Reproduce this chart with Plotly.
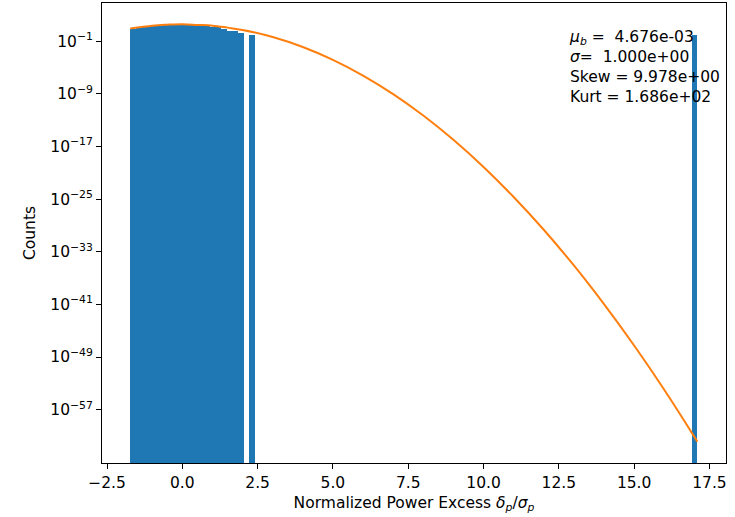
"""Histogram of normalized power excess with Gaussian model, log counts."""
import numpy as np
import plotly.graph_objects as go

COLORS = {
    "bar": "#1f77b4",
    "fit": "#ff7f0e",
    "axis": "#000000",
}
FONT = "DejaVu Sans, sans-serif"
FS = 15.5

# histogram: 100 equal bins between these edges
BIN_LO = -1.727
BIN_HI = 17.10
BULK_COUNTS = [8, 10, 14, 20, 26, 30, 33, 35, 36, 36,
               35, 34, 32, 30, 16, 12, 6, 3, 3, 2]
COUNTS = BULK_COUNTS + [0, 1] + [0] * 77 + [1]

# model curve
CURVE_X = [-1.727, -1.0, -0.5, 0.0, 0.5, 1.0, 1.5, 2.0, 3.0, 4.0, 5.0, 6.0,
           7.0, 8.0, 9.0, 10.0, 11.0, 12.0, 13.0, 14.0, 15.0, 16.0, 17.0, 17.10]
CURVE_Y = [8.3, 22.7, 31.5, 37.6, 29.5, 22.9, 11.4, 5.14, 4.24e-1, 1.29e-2,
           1.44e-4, 5.9e-7, 8.95e-10, 4.99e-13, 1.02e-16, 7.7e-21, 2.1e-25,
           2.2e-30, 8.2e-36, 1.1e-41, 5.7e-48, 1.1e-54, 7.4e-62, 1.3e-62]

X_TICKS = [-2.5, 0.0, 2.5, 5.0, 7.5, 10.0, 12.5, 15.0, 17.5]
Y_TICK_EXP = [-1, -9, -17, -25, -33, -41, -49, -57]

STATS = {"mu": "4.676e-03", "sigma": "1.000e+00",
         "skew": "9.978e+00", "kurt": "1.686e+02"}

edges = np.linspace(BIN_LO, BIN_HI, len(COUNTS) + 1)
centers = 0.5 * (edges[:-1] + edges[1:])
width = edges[1] - edges[0]
counts = [c if c > 0 else None for c in COUNTS]

fig = go.Figure()
fig.add_trace(go.Bar(
    x=centers, y=counts, width=width,
    marker=dict(color=COLORS["bar"], line=dict(width=0)),
    showlegend=False,
))
fig.add_trace(go.Scatter(
    x=CURVE_X, y=CURVE_Y, mode="lines", line_shape="spline",
    line=dict(color=COLORS["fit"], width=2),
    showlegend=False,
))

stats_text = (
    f"<i>μ</i><sub><i>b</i></sub> =  {STATS['mu']}<br>"
    f"<i>σ</i>=  {STATS['sigma']}<br>"
    f"Skew = {STATS['skew']}<br>"
    f"Kurt = {STATS['kurt']}"
)
fig.add_annotation(
    text=stats_text, xref="paper", yref="paper", x=0.745, y=0.95,
    xanchor="left", yanchor="top", align="left", showarrow=False,
    font=dict(family=FONT, size=FS, color="#000"),
)

axis_common = dict(
    showline=True, linecolor=COLORS["axis"], linewidth=1, mirror=True,
    ticks="outside", ticklen=5, tickcolor=COLORS["axis"], showgrid=False,
    zeroline=False, automargin=False,
    tickfont=dict(family=FONT, size=FS, color="#000"),
)
fig.update_layout(
    width=735, height=517,
    margin=dict(l=102, r=9, t=3, b=54),
    plot_bgcolor="white", paper_bgcolor="white",
    bargap=0,
    font=dict(family=FONT, size=FS, color="#000"),
    xaxis=dict(
        range=[-2.666, 18.05],
        tickvals=X_TICKS,
        ticktext=[f"{v:.1f}".replace("-", "−") for v in X_TICKS],
        title=dict(text="Normalized Power Excess <i>δ</i><sub><i>p</i></sub>/<i>σ</i><sub><i>p</i></sub>",
                   font=dict(family=FONT, size=FS), standoff=6),
        **axis_common,
    ),
    yaxis=dict(
        type="log", range=[-65.1, 4.8],
        tickvals=[10.0 ** e for e in Y_TICK_EXP],
        ticktext=[f"10<sup>−{-e}</sup>" for e in Y_TICK_EXP],
        title=dict(text="Counts", font=dict(family=FONT, size=FS), standoff=10),
        **axis_common,
    ),
)

# drop the page's default body margin so the 735x517 figure fills the window
fig.write_html("out.html", config={"displayModeBar": False},
               post_script="document.body.style.margin='0';")
